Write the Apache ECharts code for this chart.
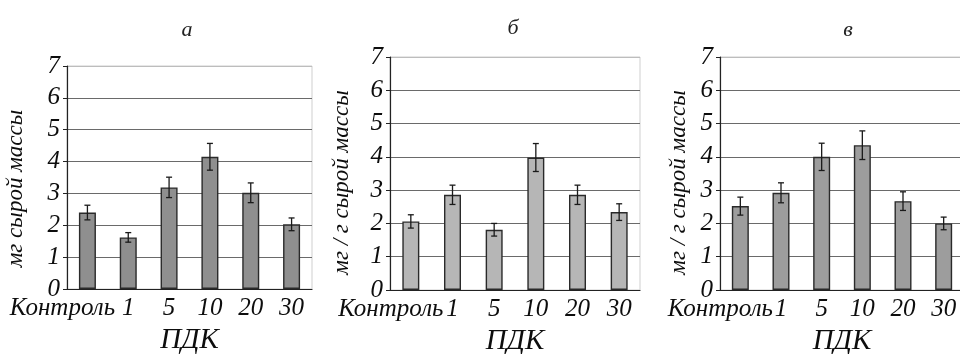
<!DOCTYPE html>
<html><head><meta charset="utf-8">
<script src="https://cdn.jsdelivr.net/npm/echarts@6/dist/echarts.min.js"></script>
<style>html,body{margin:0;padding:0;background:#fff}#c{width:960px;height:354px}</style>
</head><body><div id="c"></div>
<script>
const categories = ['Контроль', '1', '5', '10', '20', '30'];
const yTicks = [0, 1, 2, 3, 4, 5, 6, 7];
const panelTitles = ['а', 'б', 'в'];
const yNames = ['мг сырой массы', 'мг / г сырой массы', 'мг / г сырой массы'];
const xName = 'ПДК';
const valuesA = [2.4, 1.62, 3.19, 4.15, 3.02, 2.03];
const errA = [0.23, 0.15, 0.32, 0.42, 0.31, 0.2];
const valuesB = [2.06, 2.86, 1.81, 3.98, 2.86, 2.34];
const errB = [0.2, 0.29, 0.19, 0.42, 0.29, 0.25];
const valuesC = [2.52, 2.92, 4.0, 4.35, 2.67, 2.0];
const errC = [0.27, 0.3, 0.41, 0.43, 0.28, 0.19];

const FONT = 'Liberation Serif';
const panels = [
  {vals: valuesA, errs: errA, color: '#8f8f8f', grid: {left: 67, right: 648, top: 66, bottom: 65}, yGap: 40, shift: 50, titleX: 182, titleY: 14, namePad: 22},
  {vals: valuesB, errs: errB, color: '#b6b6b6', grid: {left: 390, right: 320, top: 57, bottom: 64}, yGap: 37, shift: 40, titleX: 508, titleY: 12, namePad: 18},
  {vals: valuesC, errs: errC, color: '#9d9d9d', grid: {left: 720, right: -4, top: 57, bottom: 64}, yGap: 30, shift: 40, titleX: 843, titleY: 14, namePad: 18}
];

const option = {
  animation: false,
  backgroundColor: '#fff',
  title: panels.map((p, i) => ({
    text: panelTitles[i], left: p.titleX, top: p.titleY, textAlign: 'center',
    textStyle: {fontFamily: FONT, fontStyle: 'italic', fontWeight: 'normal', fontSize: 22, color: '#222'}
  })),
  grid: panels.map(p => Object.assign({show: true, borderColor: '#cfcfcf', borderWidth: 1, containLabel: false, outerBoundsMode: 'none'}, p.grid)),
  xAxis: panels.map((p, i) => ({
    type: 'category', gridIndex: i,
    data: categories.map((c, k) => k === 0 ? {value: c, textStyle: {padding: [0, p.shift, 0, 0]}} : c),
    axisLine: {show: true, lineStyle: {color: '#222', width: 1.2}},
    axisTick: {show: false},
    axisLabel: {interval: 0, margin: 7, fontFamily: FONT, fontStyle: 'italic', fontSize: 25, color: '#0d0d0d'},
    name: xName, nameLocation: 'middle', nameGap: 37,
    nameTextStyle: {fontFamily: FONT, fontStyle: 'italic', fontSize: 29, color: '#0d0d0d'}
  })),
  yAxis: panels.map((p, i) => ({
    type: 'value', gridIndex: i, min: yTicks[0], max: yTicks[yTicks.length - 1], interval: 1,
    axisLine: {show: true, lineStyle: {color: '#222', width: 1.2}},
    axisTick: {show: true, length: 4, lineStyle: {color: '#222'}},
    axisLabel: {margin: 7, fontFamily: FONT, fontStyle: 'italic', fontSize: 25, color: '#0d0d0d',
      formatter: v => yTicks.includes(v) ? String(v) : ''},
    splitLine: {show: true, lineStyle: {color: ['#222', '#6a6a6a', '#6a6a6a', '#6a6a6a', '#6a6a6a', '#6a6a6a', '#6a6a6a', '#bdbdbd'], width: 1}},
    name: yNames[i], nameLocation: 'middle', nameGap: p.yGap, nameRotate: 90,
    nameTextStyle: {fontFamily: FONT, fontStyle: 'italic', fontSize: 23, color: '#0d0d0d', padding: [0, p.namePad, 0, 0]}
  })),
  series: panels.flatMap((p, i) => [
    {type: 'bar', xAxisIndex: i, yAxisIndex: i, data: p.vals, barWidth: 17,
      itemStyle: {color: p.color, borderColor: '#2a2a2a', borderWidth: 1.4}},
    {type: 'custom', xAxisIndex: i, yAxisIndex: i, z: 5,
      data: p.vals.map((v, k) => [k, v, p.errs[k]]),
      encode: {x: 0, y: 1},
      renderItem: function (params, api) {
        const x = api.value(0), y = api.value(1), e = api.value(2);
        const hi = api.coord([x, y + e]);
        const lo = api.coord([x, y - e]);
        const w = 3;
        const st = {stroke: '#1a1a1a', lineWidth: 1.3};
        return {type: 'group', children: [
          {type: 'line', shape: {x1: hi[0], y1: hi[1], x2: lo[0], y2: lo[1]}, style: st},
          {type: 'line', shape: {x1: hi[0] - w, y1: hi[1], x2: hi[0] + w, y2: hi[1]}, style: st},
          {type: 'line', shape: {x1: lo[0] - w, y1: lo[1], x2: lo[0] + w, y2: lo[1]}, style: st}
        ]};
      }}
  ])
};
const chart = echarts.init(document.getElementById('c'), null, {renderer: 'canvas'});
chart.setOption(option);
</script></body></html>
